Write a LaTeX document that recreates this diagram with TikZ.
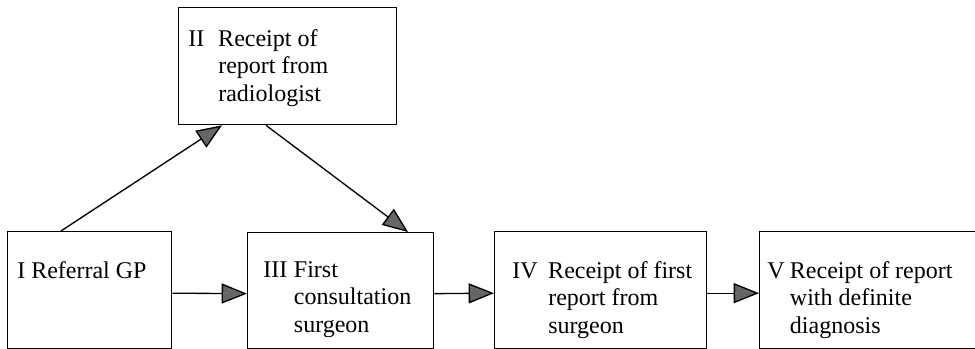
\documentclass[tikz,border=0pt]{standalone}
\usepackage{fontspec}
\setmainfont{Liberation Serif}
\usetikzlibrary{arrows.meta,calc}
\begin{document}
\begin{tikzpicture}[x=0.75pt,y=-0.75pt,
  stepbox/.style={draw,line width=1pt,anchor=north west,inner sep=0pt,minimum height=87.75pt},
  steptext/.style={anchor=north west,inner sep=0pt,align=left,font=\fontsize{18}{20.6}\selectfont},
  arr/.style={line width=1pt,-{Triangle[length=19pt,width=15pt,fill=black!60]}}]
\useasboundingbox (0,0) rectangle (975,349);
\node[stepbox,minimum width=123pt] (I) at (7,231) {};
\node[stepbox,minimum width=163.5pt] (II) at (178,7) {};
\node[stepbox,minimum width=139.5pt,minimum height=87pt] (III) at (247,232) {};
\node[stepbox,minimum width=159pt] (IV) at (494,231) {};
\node[stepbox,minimum width=172.5pt] (V) at (759,231) {};
\node[steptext] (tI) at (17,261) {I Referral GP};
\node[steptext] (tII) at (188,29) {\makebox[22.5pt][l]{II}Receipt of\\\hspace*{22.5pt}report from\\\hspace*{22.5pt}radiologist};
\node[steptext] (tIII) at (263,261) {\makebox[23pt][l]{III}First\\\hspace*{23pt}consultation\\\hspace*{23pt}surgeon};
\node[steptext] (tIV) at (512,261) {\makebox[27pt][l]{IV}Receipt of first\\\hspace*{27pt}report from\\\hspace*{27pt}surgeon};
\node[steptext] (tV) at (767,261) {\makebox[17pt][l]{V}Receipt of report\\\hspace*{17pt}with definite\\\hspace*{17pt}diagnosis};
\draw[arr] ($(I.north west)+(54,0)$) -- ($(II.south west)+(44,0)$);
\draw[arr] ($(II.south west)+(88,0)$) -- ($(III.north west)+(161,0)$);
\draw[arr] ($(I.east)+(0,3)$) -- ($(III.west)+(0,3)$);
\draw[arr] ($(III.east)+(0,3)$) -- ($(IV.west)+(0,3)$);
\draw[arr] ($(IV.east)+(0,3)$) -- ($(V.west)+(0,3)$);
\end{tikzpicture}
\end{document}
